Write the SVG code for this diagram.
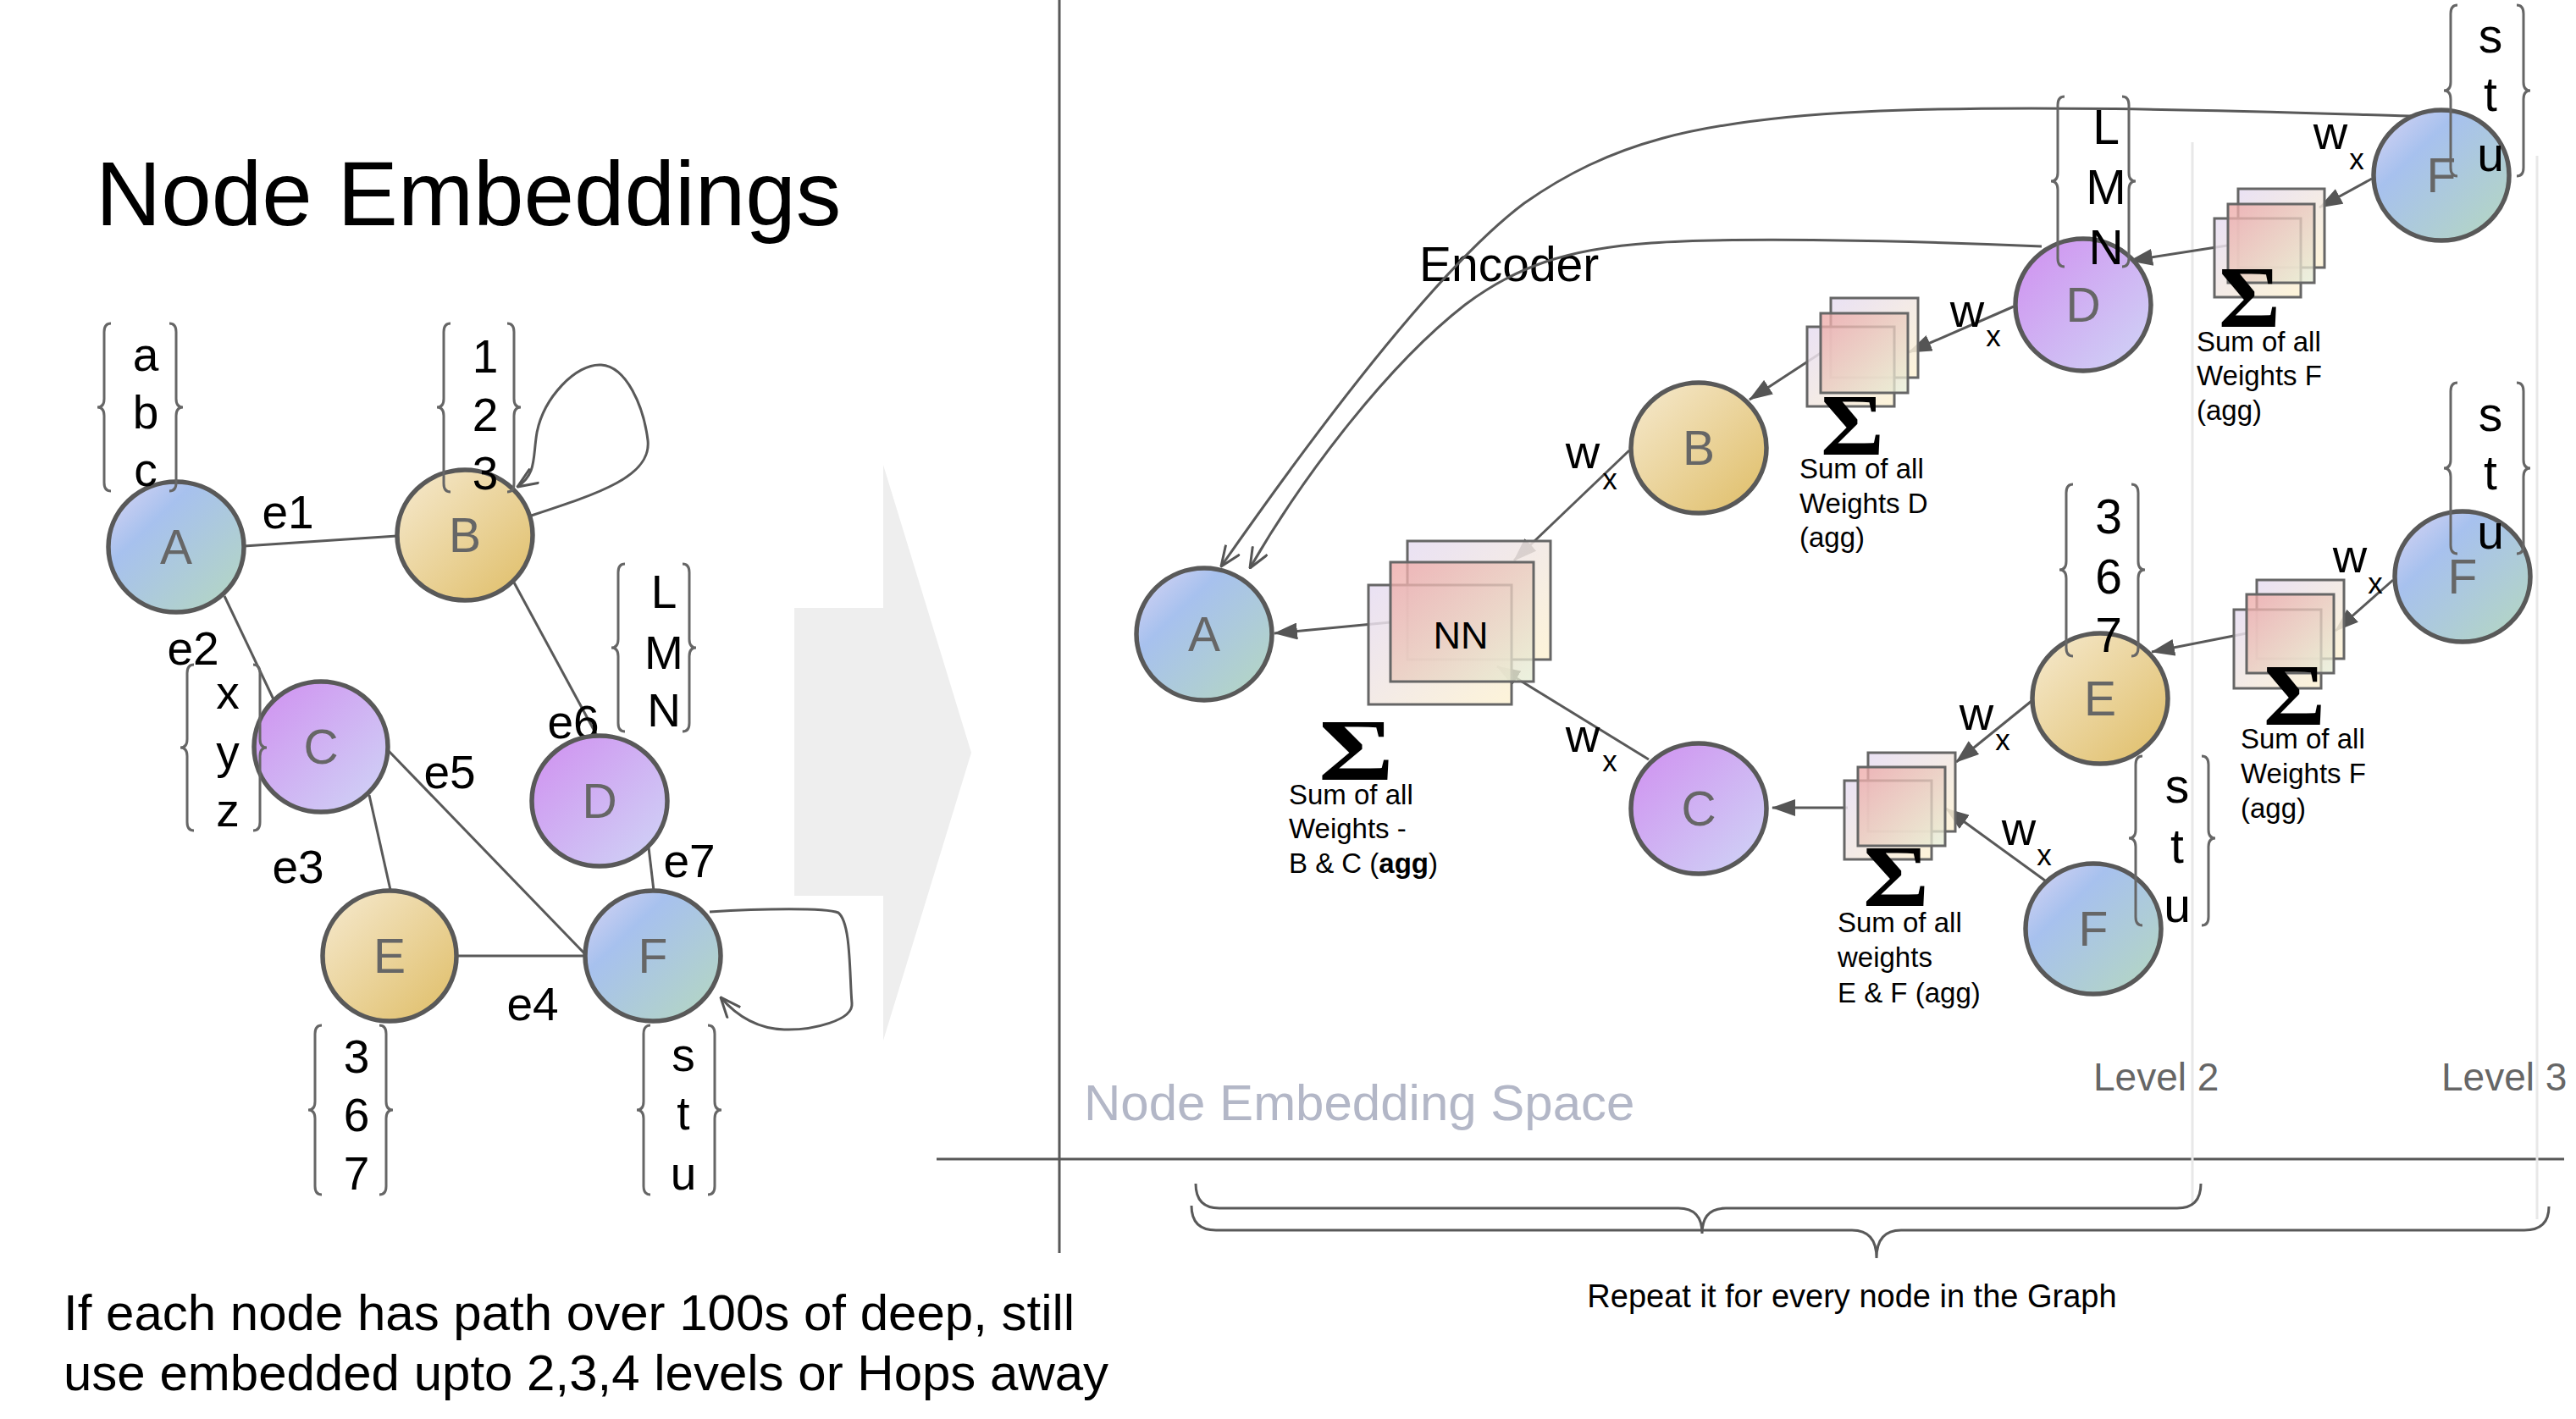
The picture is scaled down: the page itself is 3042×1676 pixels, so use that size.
<svg xmlns="http://www.w3.org/2000/svg" width="3042" height="1676" viewBox="0 0 3042 1676">
<defs>
<linearGradient id="gBlue" x1="0" y1="0" x2="1" y2="1"><stop offset="0" stop-color="#dcd6f4"/><stop offset="0.32" stop-color="#a7c1ee"/><stop offset="1" stop-color="#b5d8bf"/></linearGradient>
<linearGradient id="gGold" x1="0" y1="0" x2="1" y2="1"><stop offset="0" stop-color="#f6ead0"/><stop offset="1" stop-color="#dfbd66"/></linearGradient>
<linearGradient id="gPurp" x1="0" y1="0" x2="1" y2="1"><stop offset="0" stop-color="#d08ff0"/><stop offset="1" stop-color="#cfd6f6"/></linearGradient>
<linearGradient id="gPale" x1="0" y1="0" x2="1" y2="1"><stop offset="0" stop-color="#e6dcf2"/><stop offset="1" stop-color="#fdf2d2"/></linearGradient>
<linearGradient id="gPink" x1="0" y1="0" x2="1" y2="1"><stop offset="0" stop-color="#eea7a7"/><stop offset="1" stop-color="#e6efd6"/></linearGradient>
<marker id="tri" viewBox="0 0 28 20" markerWidth="28" markerHeight="20" refX="27" refY="10" orient="auto" markerUnits="userSpaceOnUse"><path d="M0,0 L28,10 L0,20 z" fill="#555"/></marker>
<marker id="vee" viewBox="0 0 26 22" markerWidth="26" markerHeight="22" refX="25" refY="11" orient="auto" markerUnits="userSpaceOnUse"><path d="M1,1 L25,11 L1,21" fill="none" stroke="#555" stroke-width="3"/></marker>
</defs>
<style>
.t{font-family:"Liberation Sans",Arial,sans-serif;fill:#000}
.nd{stroke:#595959;stroke-width:5.5}
.nl{font-family:"Liberation Sans",Arial,sans-serif;font-size:57px;fill:#666;text-anchor:middle}
.br{fill:none;stroke:#666;stroke-width:3}
.bl{font-family:"Liberation Sans",Arial,sans-serif;font-size:55px;text-anchor:middle;fill:#000}
.bl2{font-family:"Liberation Sans",Arial,sans-serif;font-size:57px;text-anchor:middle;fill:#000}
.ed{fill:none;stroke:#595959;stroke-width:3}
.ar{fill:none;stroke:#595959;stroke-width:3;marker-end:url(#tri)}
.op{fill:none;stroke:#595959;stroke-width:3;marker-end:url(#vee)}
.el{font-family:"Liberation Sans",Arial,sans-serif;font-size:55px;text-anchor:middle;fill:#000}
.w{font-family:"Liberation Sans",Arial,sans-serif;font-size:56px;text-anchor:middle;fill:#000}
.x{font-family:"Liberation Sans",Arial,sans-serif;font-size:35px;text-anchor:middle;fill:#000}
.bx{stroke:#666;stroke-width:3}
.sg{font-family:"Liberation Serif","Times New Roman",serif;font-weight:bold;fill:#000}
.sm{font-family:"Liberation Sans",Arial,sans-serif;font-size:33px;fill:#000}
</style>
<rect width="3042" height="1676" fill="#fff"/>

<!-- big gray arrow -->
<polygon points="938,718 1043,718 1043,549 1147,889 1043,1229 1043,1058 938,1058" fill="#eeeeee"/>

<!-- axes and level separators -->
<g id="axes">
<line x1="1251" y1="0" x2="1251" y2="1480" stroke="#595959" stroke-width="3"/>
<line x1="1106" y1="1369" x2="3028" y2="1369" stroke="#595959" stroke-width="3"/>
<line x1="2589" y1="168" x2="2589" y2="1420" stroke="#e8e8e8" stroke-width="3"/>
<line x1="2996" y1="184" x2="2996" y2="1440" stroke="#e8e8e8" stroke-width="3"/>
</g>

<text class="t" x="113" y="266" font-size="107">Node Embeddings</text>
<text class="t" x="75" y="1571" font-size="60">If each node has path over 100s of deep, still</text>
<text class="t" x="75" y="1642" font-size="60">use embedded upto 2,3,4 levels or Hops away</text>
<text x="1280" y="1323" font-family="Liberation Sans,Arial,sans-serif" font-size="60" fill="#b3b7c7">Node Embedding Space</text>
<text x="2472" y="1288" font-family="Liberation Sans,Arial,sans-serif" font-size="46" fill="#666">Level 2</text>
<text x="2883" y="1288" font-family="Liberation Sans,Arial,sans-serif" font-size="46" fill="#666">Level 3</text>
<text class="t" x="2187" y="1544" font-size="38" text-anchor="middle">Repeat it for every node in the Graph</text>
<text class="t" x="1676" y="332" font-size="57">Encoder</text>

<!-- bottom braces -->
<g id="braces-bottom" class="br" style="stroke:#595959">
<path d="M1412,1398 Q1412,1427 1440,1427 L1982,1427 Q2010,1427 2010,1457 Q2010,1427 2038,1427 L2571,1427 Q2599,1427 2599,1398"/>
<path d="M1407,1424 Q1407,1453 1436,1453 L2187,1453 Q2216,1453 2216,1486 Q2216,1453 2245,1453 L2981,1453 Q3010,1453 3010,1425"/>
</g>

<!-- connectors -->
<g id="connectors">
<line class="ed" x1="288" y1="645" x2="469" y2="633"/>
<line class="ed" x1="265" y1="704" x2="323" y2="826"/>
<line class="ed" x1="607" y1="688" x2="705" y2="869"/>
<line class="ed" x1="436" y1="939" x2="461" y2="1051"/>
<line class="ed" x1="459" y1="887" x2="691" y2="1127"/>
<line class="ed" x1="766" y1="1001" x2="772" y2="1052"/>
<line class="ed" x1="540" y1="1129" x2="691" y2="1129"/>
<path class="op" d="M612,614 C700,585 770,565 765,520 C760,480 740,433 710,431 C680,429 642,470 634,511 C629,540 634,560 611,575"/>
<path class="op" d="M838,1077 C900,1073 975,1072 990,1078 C1005,1090 1003,1150 1006,1185 C1008,1205 960,1217 926,1216 C895,1215 870,1200 851,1178"/>

<path class="op" d="M2851,137 C2700,133 2400,122 2200,132 C2000,142 1900,170 1800,240 C1700,315 1560,500 1442,669"/>
<path class="op" d="M2411,291 C2250,284 2050,280 1950,287 C1850,294 1790,315 1730,360 C1640,430 1540,560 1476,671"/>

<line class="ar" x1="1642" y1="735" x2="1505" y2="748"/>
<line class="ar" x1="1924" y1="532" x2="1788" y2="662"/>
<line class="ar" x1="1947" y1="897" x2="1768" y2="787"/>
<line class="ar" x1="2150" y1="417" x2="2066" y2="472"/>
<line class="ar" x1="2378" y1="362" x2="2254" y2="416"/>
<line class="ar" x1="2630" y1="290" x2="2515" y2="308"/>
<line class="ar" x1="2801" y1="211" x2="2739" y2="245"/>
<line class="ar" x1="2182" y1="954" x2="2093" y2="954"/>
<line class="ar" x1="2399" y1="828" x2="2310" y2="900"/>
<line class="ar" x1="2415" y1="1040" x2="2298" y2="955"/>
<line class="ar" x1="2653" y1="748" x2="2541" y2="770"/>
<line class="ar" x1="2826" y1="685" x2="2758" y2="745"/>
</g>

<!-- edge labels -->
<g id="edge-labels">
<text class="el" x="340" y="624">e1</text>
<text class="el" x="228" y="785">e2</text>
<text class="el" x="352" y="1043">e3</text>
<text class="el" x="629" y="1205">e4</text>
<text class="el" x="531" y="931">e5</text>
<text class="el" x="677" y="872">e6</text>
<text class="el" x="814" y="1036">e7</text>
</g>

<!-- left graph nodes -->
<g id="L-A"><ellipse class="nd" cx="208" cy="646" rx="80" ry="77" fill="url(#gBlue)"/><text class="nl" x="208" y="666">A</text></g>
<g id="L-B"><ellipse class="nd" cx="549" cy="632" rx="80" ry="77" fill="url(#gGold)"/><text class="nl" x="549" y="652">B</text></g>
<g id="L-C"><ellipse class="nd" cx="379" cy="882" rx="79" ry="77" fill="url(#gPurp)"/><text class="nl" x="379" y="902">C</text></g>
<g id="L-D"><ellipse class="nd" cx="708" cy="946" rx="80" ry="77" fill="url(#gPurp)"/><text class="nl" x="708" y="966">D</text></g>
<g id="L-E"><ellipse class="nd" cx="460" cy="1129" rx="79" ry="77" fill="url(#gGold)"/><text class="nl" x="460" y="1149">E</text></g>
<g id="L-F"><ellipse class="nd" cx="771" cy="1129" rx="80" ry="77" fill="url(#gBlue)"/><text class="nl" x="771" y="1149">F</text></g>

<!-- right graph nodes -->
<g id="R-A"><ellipse class="nd" cx="1422" cy="749" rx="80" ry="78" fill="url(#gBlue)"/><text class="nl" x="1422" y="769">A</text></g>
<g id="R-B"><ellipse class="nd" cx="2006" cy="529" rx="80" ry="77" fill="url(#gGold)"/><text class="nl" x="2006" y="549">B</text></g>
<g id="R-C"><ellipse class="nd" cx="2006" cy="955" rx="80" ry="77" fill="url(#gPurp)"/><text class="nl" x="2006" y="975">C</text></g>
<g id="R-D"><ellipse class="nd" cx="2460" cy="360" rx="80" ry="78" fill="url(#gPurp)"/><text class="nl" x="2460" y="380">D</text></g>
<g id="R-F1"><ellipse class="nd" cx="2883" cy="207" rx="80" ry="77" fill="url(#gBlue)"/><text class="nl" x="2883" y="227">F</text></g>
<g id="R-E"><ellipse class="nd" cx="2480" cy="825" rx="80" ry="77" fill="url(#gGold)"/><text class="nl" x="2480" y="845">E</text></g>
<g id="R-F2"><ellipse class="nd" cx="2908" cy="681" rx="80" ry="77" fill="url(#gBlue)"/><text class="nl" x="2908" y="701">F</text></g>
<g id="R-F3"><ellipse class="nd" cx="2472" cy="1097" rx="80" ry="77" fill="url(#gBlue)"/><text class="nl" x="2472" y="1117">F</text></g>

<!-- aggregation boxes -->
<g id="agg-NN">
<rect class="bx" x="1662" y="639" width="169" height="140" fill="url(#gPale)" fill-opacity="0.85"/>
<rect class="bx" x="1616" y="691" width="169" height="141" fill="url(#gPale)" fill-opacity="0.85"/>
<rect class="bx" x="1642" y="664" width="169" height="141" fill="url(#gPink)" fill-opacity="0.78"/>
<text class="t" x="1725" y="766" font-size="45" text-anchor="middle">NN</text>
<text class="sg" x="1557" y="921" font-size="104" textLength="89" lengthAdjust="spacingAndGlyphs">Σ</text>
<text class="sm" x="1522" y="950">Sum of all</text>
<text class="sm" x="1522" y="990">Weights -</text>
<text class="sm" x="1522" y="1031">B &amp; C (<tspan font-weight="bold">agg</tspan>)</text>
</g>
<g id="agg-D">
<rect class="bx" x="2162" y="352" width="103" height="94" fill="url(#gPale)" fill-opacity="0.85"/>
<rect class="bx" x="2134" y="386" width="103" height="94" fill="url(#gPale)" fill-opacity="0.85"/>
<rect class="bx" x="2150" y="370" width="103" height="94" fill="url(#gPink)" fill-opacity="0.78"/>
<text class="sg" x="2150" y="537" font-size="104" textLength="75" lengthAdjust="spacingAndGlyphs">Σ</text>
<text class="sm" x="2125" y="565">Sum of all</text>
<text class="sm" x="2125" y="606">Weights D</text>
<text class="sm" x="2125" y="646">(agg)</text>
</g>
<g id="agg-F1">
<rect class="bx" x="2643" y="223" width="102" height="93" fill="url(#gPale)" fill-opacity="0.85"/>
<rect class="bx" x="2615" y="258" width="102" height="93" fill="url(#gPale)" fill-opacity="0.85"/>
<rect class="bx" x="2631" y="241" width="102" height="93" fill="url(#gPink)" fill-opacity="0.78"/>
<text class="sg" x="2620" y="386" font-size="104" textLength="73" lengthAdjust="spacingAndGlyphs">Σ</text>
<text class="sm" x="2594" y="415">Sum of all</text>
<text class="sm" x="2594" y="455">Weights F</text>
<text class="sm" x="2594" y="496">(agg)</text>
</g>
<g id="agg-F2">
<rect class="bx" x="2665" y="685" width="103" height="93" fill="url(#gPale)" fill-opacity="0.85"/>
<rect class="bx" x="2638" y="720" width="103" height="93" fill="url(#gPale)" fill-opacity="0.85"/>
<rect class="bx" x="2653" y="702" width="103" height="93" fill="url(#gPink)" fill-opacity="0.78"/>
<text class="sg" x="2673" y="856" font-size="104" textLength="73" lengthAdjust="spacingAndGlyphs">Σ</text>
<text class="sm" x="2646" y="884">Sum of all</text>
<text class="sm" x="2646" y="925">Weights F</text>
<text class="sm" x="2646" y="966">(agg)</text>
</g>
<g id="agg-EF">
<rect class="bx" x="2206" y="889" width="103" height="93" fill="url(#gPale)" fill-opacity="0.85"/>
<rect class="bx" x="2178" y="922" width="103" height="93" fill="url(#gPale)" fill-opacity="0.85"/>
<rect class="bx" x="2194" y="906" width="103" height="93" fill="url(#gPink)" fill-opacity="0.78"/>
<text class="sg" x="2200" y="1070" font-size="104" textLength="78" lengthAdjust="spacingAndGlyphs">Σ</text>
<text class="sm" x="2170" y="1101">Sum of all</text>
<text class="sm" x="2170" y="1142">weights</text>
<text class="sm" x="2170" y="1184">E &amp; F (agg)</text>
</g>

<!-- weight labels -->
<g id="wx-labels">
<text class="w" x="1869" y="553">w</text><text class="x" x="1901" y="578">x</text>
<text class="w" x="1869" y="888">w</text><text class="x" x="1901" y="911">x</text>
<text class="w" x="2323" y="386">w</text><text class="x" x="2354" y="409">x</text>
<text class="w" x="2752" y="176">w</text><text class="x" x="2783" y="200">x</text>
<text class="w" x="2334" y="862">w</text><text class="x" x="2365" y="886">x</text>
<text class="w" x="2384" y="998">w</text><text class="x" x="2414" y="1022">x</text>
<text class="w" x="2775" y="676">w</text><text class="x" x="2805" y="701">x</text>
</g>

<!-- feature brackets, left graph -->
<g id="feat-abc"><path class="br" d="M131,382 Q123,382 123,392 L123,471 Q123,481 115,481 Q123,481 123,491 L123,570 Q123,580 131,580 M200,382 Q208,382 208,392 L208,471 Q208,481 216,481 Q208,481 208,491 L208,570 Q208,580 200,580"/>
<text class="bl" x="172" y="438">a</text><text class="bl" x="172" y="506">b</text><text class="bl" x="172" y="574">c</text></g>
<g id="feat-123"><path class="br" d="M532,382 Q524,382 524,392 L524,471 Q524,481 516,481 Q524,481 524,491 L524,571 Q524,581 532,581 M599,382 Q607,382 607,392 L607,471 Q607,481 615,481 Q607,481 607,491 L607,571 Q607,581 599,581"/>
<text class="bl" x="573" y="440">1</text><text class="bl" x="573" y="509">2</text><text class="bl" x="573" y="578">3</text></g>
<g id="feat-LMN"><path class="br" d="M738,666 Q730,666 730,676 L730,755 Q730,765 722,765 Q730,765 730,775 L730,854 Q730,864 738,864 M806,666 Q814,666 814,676 L814,755 Q814,765 822,765 Q814,765 814,775 L814,854 Q814,864 806,864"/>
<text class="bl" x="784" y="718">L</text><text class="bl" x="784" y="790">M</text><text class="bl" x="784" y="858">N</text></g>
<g id="feat-xyz"><path class="br" d="M229,785 Q221,785 221,795 L221,873 Q221,883 213,883 Q221,883 221,893 L221,971 Q221,981 229,981 M299,785 Q307,785 307,795 L307,873 Q307,883 315,883 Q307,883 307,893 L307,971 Q307,981 299,981"/>
<text class="bl" x="269" y="837">x</text><text class="bl" x="269" y="907">y</text><text class="bl" x="269" y="976">z</text></g>
<g id="feat-367"><path class="br" d="M380,1211 Q372,1211 372,1221 L372,1301 Q372,1311 364,1311 Q372,1311 372,1321 L372,1401 Q372,1411 380,1411 M448,1211 Q456,1211 456,1221 L456,1301 Q456,1311 464,1311 Q456,1311 456,1321 L456,1401 Q456,1411 448,1411"/>
<text class="bl" x="421" y="1267">3</text><text class="bl" x="421" y="1336">6</text><text class="bl" x="421" y="1405">7</text></g>
<g id="feat-stu"><path class="br" d="M768,1211 Q760,1211 760,1221 L760,1301 Q760,1311 752,1311 Q760,1311 760,1321 L760,1401 Q760,1411 768,1411 M836,1211 Q844,1211 844,1221 L844,1301 Q844,1311 852,1311 Q844,1311 844,1321 L844,1401 Q844,1411 836,1411"/>
<text class="bl" x="807" y="1265">s</text><text class="bl" x="807" y="1334">t</text><text class="bl" x="807" y="1405">u</text></g>

<!-- feature brackets, right graph -->
<g id="featR-LMN"><path class="br" d="M2438,114 Q2430,114 2430,124 L2430,204 Q2430,214 2422,214 Q2430,214 2430,224 L2430,305 Q2430,315 2438,315 M2506,114 Q2514,114 2514,124 L2514,204 Q2514,214 2522,214 Q2514,214 2514,224 L2514,305 Q2514,315 2506,315"/>
<text class="bl2" x="2487" y="170">L</text><text class="bl2" x="2487" y="241">M</text><text class="bl2" x="2487" y="312">N</text></g>
<g id="featR-stu1"><path class="br" d="M2902,6 Q2894,6 2894,16 L2894,97 Q2894,107 2886,107 Q2894,107 2894,117 L2894,198 Q2894,208 2902,208 M2972,6 Q2980,6 2980,16 L2980,97 Q2980,107 2988,107 Q2980,107 2980,117 L2980,198 Q2980,208 2972,208"/>
<text class="bl2" x="2941" y="62">s</text><text class="bl2" x="2941" y="131">t</text><text class="bl2" x="2941" y="202">u</text></g>
<g id="featR-stu2"><path class="br" d="M2902,452 Q2894,452 2894,462 L2894,543 Q2894,553 2886,553 Q2894,553 2894,563 L2894,644 Q2894,654 2902,654 M2972,452 Q2980,452 2980,462 L2980,543 Q2980,553 2988,553 Q2980,553 2980,563 L2980,644 Q2980,654 2972,654"/>
<text class="bl2" x="2941" y="509">s</text><text class="bl2" x="2941" y="578">t</text><text class="bl2" x="2941" y="648">u</text></g>
<g id="featR-367"><path class="br" d="M2448,572 Q2440,572 2440,582 L2440,663 Q2440,673 2432,673 Q2440,673 2440,683 L2440,765 Q2440,775 2448,775 M2517,572 Q2525,572 2525,582 L2525,663 Q2525,673 2533,673 Q2525,673 2525,683 L2525,765 Q2525,775 2517,775"/>
<text class="bl2" x="2490" y="630">3</text><text class="bl2" x="2490" y="701">6</text><text class="bl2" x="2490" y="770">7</text></g>
<g id="featR-stu3"><path class="br" d="M2530,893 Q2522,893 2522,903 L2522,980 Q2522,990 2514,990 Q2522,990 2522,1000 L2522,1083 Q2522,1093 2530,1093 M2600,893 Q2608,893 2608,903 L2608,980 Q2608,990 2616,990 Q2608,990 2608,1000 L2608,1083 Q2608,1093 2600,1093"/>
<text class="bl2" x="2571" y="948">s</text><text class="bl2" x="2571" y="1019">t</text><text class="bl2" x="2571" y="1089">u</text></g>
</svg>
